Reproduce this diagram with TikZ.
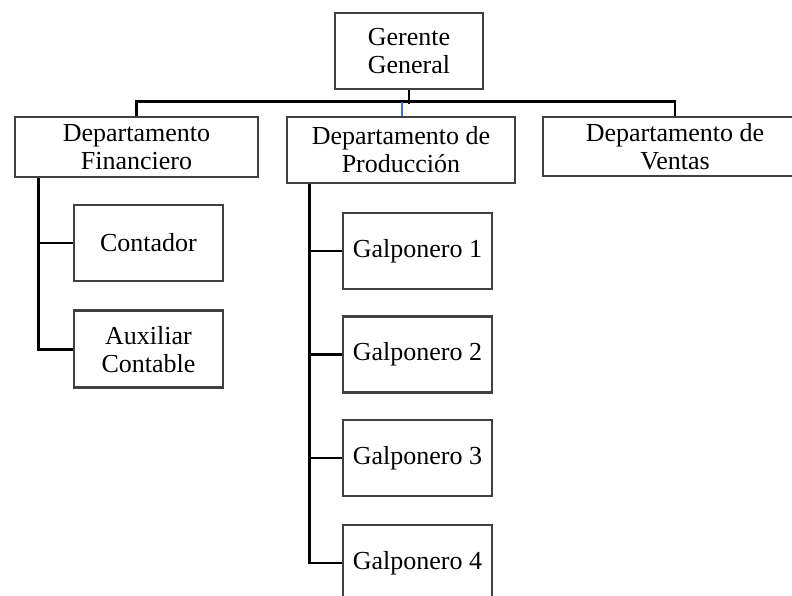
\documentclass[tikz,border=0pt]{standalone}
\usepackage{fontspec}
\setmainfont{Liberation Serif}
\usetikzlibrary{positioning}
\definecolor{linkblue}{RGB}{68,114,196}

\begin{document}
\begin{tikzpicture}[x=1pt,y=-1pt,node distance=28pt,
    box/.style={draw=black!75,line width=2.8pt,fill=white,inner sep=0pt,align=center,
        font=\fontsize{26}{28}\selectfont},
    link/.style={line width=2.7pt,black}]
            \useasboundingbox (0,0) rectangle (792,595);

            \node[box,minimum width=148pt,minimum height=76pt] (GG) at (409,51) {Gerente\\General};
            \node[box,minimum width=243pt,minimum height=60pt] (DF) at (136.5,147) {Departamento\\Financiero};
            \node[box,minimum width=228pt,minimum height=66pt] (DP) at (401,150) {Departamento de\\Producci\'on};
            \node[box,minimum width=264pt,minimum height=59pt] (DV) at (675,146.5) {Departamento de\\Ventas};

            \node[box,minimum width=149pt,minimum height=76pt] (C) at (148.5,243) {Contador};
            \node[box,minimum width=149pt,minimum height=77pt] (AC) [below=27pt of C] {Auxiliar\\Contable};

            \node[box,minimum width=149pt,minimum height=76pt] (G1) at (417.5,251) {Galponero 1};
            \node[box,minimum width=149pt,minimum height=76pt] (G2) [below of=G1,node distance=103.5pt] {Galponero 2};
            \node[box,minimum width=149pt,minimum height=76pt] (G3) [below of=G2,node distance=103.5pt] {Galponero 3};
            \node[box,minimum width=149pt,minimum height=76pt] (G4) [below of=G3,node distance=105pt] {Galponero 4};

            \draw[link] (GG.south) -- ++(0,14);
            \draw[link] (DF.north) -- ++(0,-14) -| (DV.north);
            \draw[link,linkblue,line width=1.8pt] ([xshift=1pt]DP.north) -- ++(0,-14);

            \draw[link] ([xshift=25pt]DF.south west) |- (C.west);
            \draw[link] ([xshift=25pt]DF.south west) |- (AC.west);

            \draw[link] ([xshift=24pt]DP.south west) |- (G1.west);
            \draw[link] ([xshift=24pt]DP.south west) |- (G2.west);
            \draw[link] ([xshift=24pt]DP.south west) |- (G3.west);
            \draw[link] ([xshift=24pt]DP.south west) |- (G4.west);
\end{tikzpicture}
\end{document}
